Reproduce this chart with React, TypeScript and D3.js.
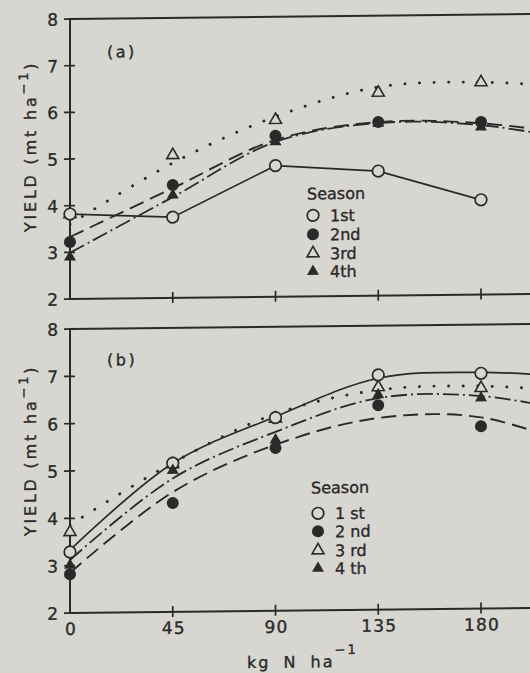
import React from 'react';
import * as d3 from 'd3';

const W = 530;
const H = 673;

// Nitrogen rates (kg N/ha) with observed yields, and the rates at which the fitted responses are traced
const nRates = [0, 45, 90, 135, 180];
const fitRates = [0, 45, 90, 135, 180, 225];
const xTicks = [0, 45, 90, 135, 180];
const yTicks = [2, 3, 4, 5, 6, 7, 8];

// Panel (a): observed yields (mt/ha) by season
const a1st = [3.82, 3.73, 4.81, 4.67, 4.03];
const a2nd = [3.22, 4.42, 5.45, 5.72, 5.7];
const a3rd = [3.82, 5.06, 5.79, 6.35, 6.55];
const a4th = [2.9, 4.2, 5.32, 5.69, 5.59];
// Panel (a): fitted responses
const a2ndFit = [3.33, 4.35, 5.36, 5.72, 5.67, 5.38];
const a3rdFit = [3.6, 4.89, 5.86, 6.47, 6.55, 6.4];
const a4thFit = [2.99, 4.16, 5.32, 5.7, 5.63, 5.26];

// Panel (b): observed yields (mt/ha) by season
const b1st = [3.29, 5.14, 6.08, 6.96, 6.97];
const b2nd = [2.82, 4.3, 5.44, 6.32, 5.85];
const b3rd = [3.71, 5.12, 6.06, 6.7, 6.66];
const b4th = [3.01, 4.99, 5.61, 6.54, 6.45];
// Panel (b): fitted responses
const b1stFit = [3.33, 5.14, 6.1, 6.89, 6.99, 6.85];
const b2ndFit = [2.85, 4.53, 5.51, 6.05, 6.04, 5.35];
const b3rdFit = [3.86, 5.15, 6.16, 6.64, 6.7, 6.55];
const b4thFit = [3.12, 4.82, 5.78, 6.47, 6.49, 6.1];

const seasonLabelsA = ['1st', '2nd', '3rd', '4th'];
const seasonLabelsB = ['1 st', '2 nd', '3 rd', '4 th'];

const PAPER = '#d7d6d1';
const INK = '#2a2a2a';
const FONT = '"DejaVu Sans", Verdana, sans-serif';

const x = d3.scaleLinear().domain([0, 225]).range([70, 583.75]);

type Kind = 'openCircle' | 'filledCircle' | 'openTri' | 'filledTri';
const kinds: Kind[] = ['openCircle', 'filledCircle', 'openTri', 'filledTri'];
const styles = [
  { dash: undefined as string | undefined, width: 1.7, cap: 'butt' },
  { dash: '15 7', width: 1.9, cap: 'butt' },
  { dash: '0.1 14.5', width: 2.9, cap: 'round' },
  { dash: '16 4 2 4', width: 1.8, cap: 'butt' },
];

const triPath = d3.symbol(d3.symbolTriangle, 62)()!;

function Marker({ kind, cx, cy }: { kind: Kind; cx: number; cy: number }) {
  if (kind === 'openCircle')
    return <circle cx={cx} cy={cy} r={5.8} fill={PAPER} stroke={INK} strokeWidth={1.7} />;
  if (kind === 'filledCircle') return <circle cx={cx} cy={cy} r={6} fill={INK} />;
  if (kind === 'openTri')
    return <path d={triPath} transform={`translate(${cx},${cy})`} fill={PAPER} stroke={INK} strokeWidth={1.6} />;
  return <path d={triPath} transform={`translate(${cx},${cy})`} fill={INK} />;
}

type PanelProps = {
  top: number;
  bottom: number;
  obs: number[][];
  fits: (number[] | null)[];
  joined: boolean[];
  labels: string[];
  legend: { tx: number; ty: number; sx: number; rows: number[]; lx: number };
  tag: string;
  tagY: number;
  titleY: number;
  xLabels: boolean;
};

const textProps = { fill: INK, fontFamily: FONT, stroke: INK, strokeWidth: 0.35 };

function Panel(p: PanelProps) {
  const y = d3.scaleLinear().domain([2, 8]).range([p.bottom, p.top]);
  const fitLine = d3
    .line<number>()
    .x((_, i) => x(fitRates[i]))
    .y((v) => y(v))
    .curve(d3.curveCatmullRom.alpha(0.5));
  const obsLine = d3
    .line<number>()
    .x((_, i) => x(nRates[i]))
    .y((v) => y(v));
  const clipId = `clip-${p.tag.replace(/[()]/g, '')}`;
  // marker stacking: open triangles, open circles, filled circles, filled triangles
  const order = [2, 0, 1, 3];
  return (
    <g>
      <defs>
        <clipPath id={clipId}>
          <rect x={x(0)} y={p.top} width={x(225) - x(0)} height={p.bottom - p.top} />
        </clipPath>
      </defs>
      <line x1={x(0)} x2={x(225)} y1={p.top} y2={p.top} stroke={INK} strokeWidth={2} />
      <line x1={x(0)} x2={x(225)} y1={p.bottom} y2={p.bottom} stroke={INK} strokeWidth={2} />
      <line x1={x(0)} x2={x(0)} y1={p.top - 1} y2={p.bottom + 1} stroke={INK} strokeWidth={2} />
      <line x1={x(225)} x2={x(225)} y1={p.top} y2={p.bottom} stroke={INK} strokeWidth={2} />
      {yTicks.map((t) => (
        <g key={t}>
          <line x1={x(0) - 6} x2={x(0) + 5} y1={y(t)} y2={y(t)} stroke={INK} strokeWidth={1.7} />
          <text x={58} y={y(t) + 6.5} textAnchor="end" fontSize={17} {...textProps}>
            {t}
          </text>
        </g>
      ))}
      {xTicks.slice(1).map((t) => (
        <line key={t} x1={x(t)} x2={x(t)} y1={p.bottom - 6} y2={p.bottom + 5} stroke={INK} strokeWidth={1.7} />
      ))}
      {p.xLabels &&
        xTicks.map((t) => (
          <text key={t} x={x(t) + 1} y={p.bottom + 22} textAnchor="middle" fontSize={17} letterSpacing={1.2} {...textProps}>
            {t}
          </text>
        ))}
      <text
        transform={`translate(36,${p.titleY}) rotate(-90)`}
        textAnchor="middle"
        fontSize={16}
        letterSpacing={2.8}
        {...textProps}
      >
        YIELD (mt ha
        <tspan dy={-8} fontSize={13}>
          −1
        </tspan>
        <tspan dy={8}>)</tspan>
      </text>
      <text x={107} y={p.tagY} fontSize={16} letterSpacing={2.5} {...textProps}>
        {p.tag}
      </text>
      <g clipPath={`url(#${clipId})`} fill="none" stroke={INK}>
        {p.obs.map((vals, s) => {
          const st = styles[s];
          const d = p.joined[s] ? obsLine(vals) : p.fits[s] ? fitLine(p.fits[s]!) : null;
          if (!d) return null;
          return (
            <path key={s} d={d} strokeWidth={st.width} strokeDasharray={st.dash} strokeLinecap={st.cap as any} />
          );
        })}
      </g>
      {order.map((s) =>
        p.obs[s].map((v, i) => <Marker key={`${s}-${i}`} kind={kinds[s]} cx={x(nRates[i])} cy={y(v)} />)
      )}
      <text x={p.legend.tx} y={p.legend.ty} fontSize={16} {...textProps}>
        Season
      </text>
      {p.labels.map((lab, s) => (
        <g key={lab}>
          <Marker kind={kinds[s]} cx={p.legend.sx} cy={p.legend.rows[s]} />
          <text x={p.legend.lx} y={p.legend.rows[s] + 6} fontSize={16} xmlSpace="preserve" {...textProps}>
            {lab}
          </text>
        </g>
      ))}
    </g>
  );
}

export default function App() {
  return (
    <svg
      width={W}
      height={H}
      viewBox={`0 0 ${W} ${H}`}
      style={{ position: 'absolute', left: 0, top: 0, display: 'block' }}
    >
      <rect width={W} height={H} fill={PAPER} />
      <g transform="translate(0,0.76) skewY(-0.62)">
        <Panel
          top={19}
          bottom={299}
          obs={[a1st, a2nd, a3rd, a4th]}
          fits={[null, a2ndFit, a3rdFit, a4thFit]}
          joined={[true, false, false, false]}
          labels={seasonLabelsA}
          legend={{ tx: 307, ty: 202, sx: 313, rows: [218, 237, 256, 274], lx: 330 }}
          tag="(a)"
          tagY={58}
          titleY={146}
          xLabels={false}
        />
        <Panel
          top={329}
          bottom={613}
          obs={[b1st, b2nd, b3rd, b4th]}
          fits={[b1stFit, b2ndFit, b3rdFit, b4thFit]}
          joined={[false, false, false, false]}
          labels={seasonLabelsB}
          legend={{ tx: 311, ty: 496, sx: 318, rows: [516, 534, 553, 571], lx: 335 }}
          tag="(b)"
          tagY={366}
          titleY={450}
          xLabels={true}
        />
        <text x={247} y={670} fontSize={16} letterSpacing={2} wordSpacing={6} {...textProps}>
          kg N ha
          <tspan dy={-13} fontSize={13}>
            −1
          </tspan>
        </text>
      </g>
    </svg>
  );
}
